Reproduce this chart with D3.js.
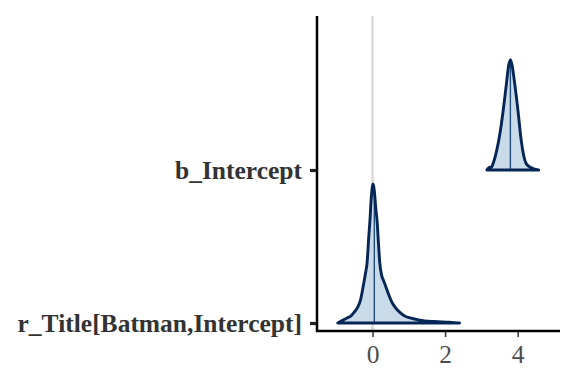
<!DOCTYPE html>
<html><head><meta charset="utf-8">
<script src="https://cdn.jsdelivr.net/npm/d3@7"></script>
<style>body{margin:0;background:#fff} text{font-family:"Times New Roman","DejaVu Serif",serif}</style>
</head><body>
<svg id="c" width="576" height="384"></svg>
<script>
const params = ["r_Title[Batman,Intercept]", "b_Intercept"];
const xTicks = [0, 2, 4];

const rX = [-0.96,-0.85,-0.7,-0.6,-0.52,-0.42,-0.33,-0.28,-0.24,-0.19,-0.15,-0.1,-0.07,-0.04,0.0,0.02,0.05,0.09,0.13,0.16,0.2,0.25,0.3,0.36,0.45,0.52,0.62,0.77,0.9,1.04,1.3,1.7,2.1,2.4];
const rDens = [0,0.06,0.14,0.19,0.28,0.42,0.64,0.89,1.11,1.4,1.67,2.44,2.86,3.39,3.81,3.86,3.67,3.19,2.78,2.28,1.67,1.33,1.19,1.03,0.78,0.61,0.44,0.28,0.19,0.14,0.08,0.04,0.02,0];
const rMedian = 0.05;

const bX = [3.15,3.23,3.28,3.32,3.42,3.51,3.6,3.69,3.75,3.8,3.85,3.92,4.01,4.1,4.17,4.24,4.38,4.58];
const bDens = [0,0.08,0.08,0.17,0.53,1.0,1.64,2.39,2.89,3.06,2.89,2.39,1.64,0.81,0.39,0.17,0.06,0];
const bMedian = 3.8;

const series = [
  {name: params[0], xs: rX, ds: rDens, med: rMedian},
  {name: params[1], xs: bX, ds: bDens, med: bMedian}
];

const svg = d3.select("#c");
const pLeft = 317, pRight = 559, pTop = 16, pBottom = 331;
const x = d3.scaleLinear().domain([-1.53, 5.14]).range([pLeft, pRight]);
const y = d3.scalePoint().domain(params).range([323, 170]);
const h = d3.scaleLinear().domain([0, d3.max(rDens)]).range([0, 139]);

svg.append("line").attr("x1", x(0)).attr("x2", x(0)).attr("y1", pTop).attr("y2", pBottom)
  .attr("stroke", "#d9d9d9").attr("stroke-width", 2.5);

series.forEach(s => {
  const pts = s.xs.map((v, i) => [v, s.ds[i]]);
  const base = y(s.name);
  const area = d3.area().x(d => x(d[0])).y0(base).y1(d => base - h(d[1])).curve(d3.curveMonotoneX);
  svg.append("path").attr("d", area(pts)).attr("fill", "#c9dbe8").attr("stroke", "none");
  const i = d3.bisectLeft(s.xs, s.med);
  const t = (s.med - s.xs[i-1]) / (s.xs[i] - s.xs[i-1]);
  const dm = s.ds[i-1] + t * (s.ds[i] - s.ds[i-1]);
  svg.append("line").attr("x1", x(s.med)).attr("x2", x(s.med)).attr("y1", base).attr("y2", base - h(dm))
    .attr("stroke", "#1f4e7e").attr("stroke-width", 1.4);
  svg.append("path").attr("d", area(pts)).attr("fill", "none").attr("stroke", "#062656")
    .attr("stroke-width", 2.9).attr("stroke-linejoin", "round");
});

const yAxis = svg.append("g").attr("transform", `translate(${pLeft},0)`)
  .call(d3.axisLeft(y).tickSize(7).tickPadding(8));
yAxis.attr("font-family", null);
yAxis.select(".domain").remove();
yAxis.selectAll(".tick line").attr("stroke", "#222").attr("stroke-width", 3.2);
yAxis.selectAll(".tick text").style("font-weight", "bold").style("font-size", "25.5px").attr("fill", "#333");

const xAxis = svg.append("g").attr("transform", `translate(0,${pBottom})`)
  .call(d3.axisBottom(x).tickValues(xTicks).tickSize(6).tickPadding(8).tickFormat(d3.format("d")));
xAxis.attr("font-family", null);
xAxis.select(".domain").remove();
xAxis.selectAll(".tick line").attr("stroke", "#333").attr("stroke-width", 1.5);
xAxis.selectAll(".tick text").style("font-size", "25.5px").attr("fill", "#4d4d4d");

svg.append("line").attr("x1", pLeft).attr("x2", pLeft).attr("y1", pTop).attr("y2", pBottom + 1)
  .attr("stroke", "#000").attr("stroke-width", 2.5);
svg.append("line").attr("x1", pLeft - 1).attr("x2", pRight + 1).attr("y1", pBottom).attr("y2", pBottom)
  .attr("stroke", "#000").attr("stroke-width", 2.5);
</script>
</body></html>
